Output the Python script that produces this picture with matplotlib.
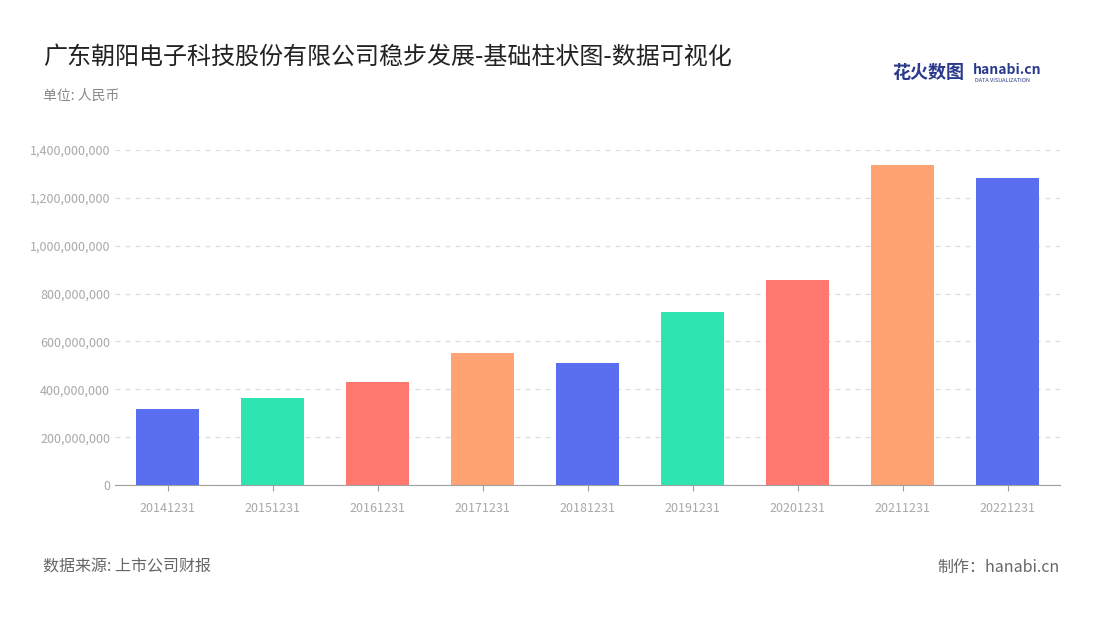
import matplotlib
matplotlib.use("Agg")
import matplotlib.pyplot as plt
from matplotlib.ticker import FuncFormatter

plt.rcParams['font.family'] = ['Noto Sans CJK SC', 'DejaVu Sans']

categories = ["20141231", "20151231", "20161231", "20171231", "20181231",
              "20191231", "20201231", "20211231", "20221231"]
values = [318e6, 364e6, 430e6, 551e6, 510e6, 723e6, 857e6, 1337e6, 1283e6]
palette = ["#5A6FF0", "#2EE5B1", "#FF7870", "#FFA372"]
colors = [palette[i % 4] for i in range(len(values))]

fig = plt.figure(figsize=(11, 6.2), dpi=100)
ax = fig.add_axes([115/1100, 1-485/620, 945/1100, 335/620])
x = range(len(categories))
ax.bar(x, values, width=0.6, color=colors, zorder=3)
ax.set_xlim(-0.5, len(categories)-0.5)
ax.set_ylim(0, 1.4e9)
ax.set_yticks([i*2e8 for i in range(8)])
ax.yaxis.set_major_formatter(FuncFormatter(lambda v, p: f"{int(v):,}"))
ax.set_xticks(list(x))
ax.set_xticklabels(categories)
ax.tick_params(axis='both', colors='#A8A8A8', labelsize=9, length=0)
ax.tick_params(axis='x', pad=8, length=4, color='#A0A0A0')
ax.grid(axis='y', color='#DDDDDD', linestyle=(0, (4, 4)), linewidth=0.9, zorder=0)
for s in ['top', 'right', 'left']:
    ax.spines[s].set_visible(False)
ax.spines['bottom'].set_color('#A0A0A0')

fig.text(43/1100, 1-57/620, "广东朝阳电子科技股份有限公司稳步发展-基础柱状图-数据可视化",
         fontsize=17.3, color='#222222', va='center')
fig.text(43/1100, 1-96/620, "单位: 人民币", fontsize=10, color='#888888', va='center')
fig.text(43/1100, 1-567/620, "数据来源: 上市公司财报", fontsize=11.5, color='#666666', va='center')
fig.text(1060/1100, 1-567/620, "制作：hanabi.cn", fontsize=11.5, color='#666666', va='center', ha='right')
fig.text(892/1100, 1-73/620, "花火数图", fontsize=13, color='#2A3A8C', va='center', fontweight='bold')
fig.text(973/1100, 1-70/620, "hanabi.cn", fontsize=10, color='#2A3A8C', va='center', fontweight='bold')
fig.text(975/1100, 1-80/620, "DATA VISUALIZATION", fontsize=4, color='#2A3A8C', va='center')

fig.savefig("out.png", dpi=100, facecolor='white')
